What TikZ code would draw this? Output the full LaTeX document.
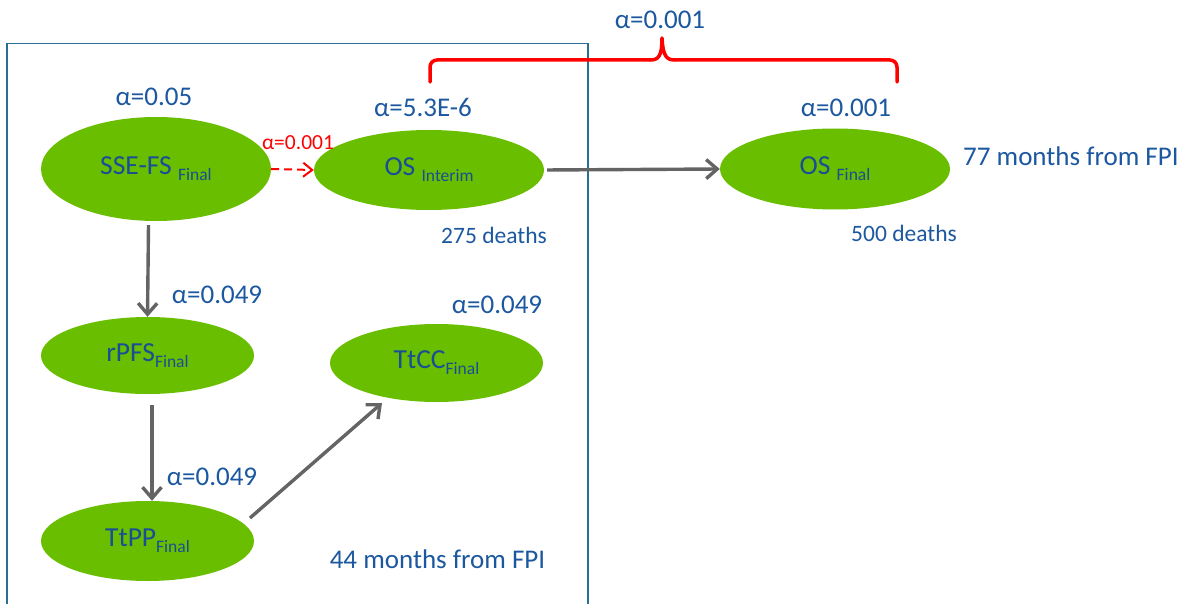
\documentclass[tikz,border=0pt]{standalone}
\usepackage{fontspec}
\setmainfont{Carlito}
\usetikzlibrary{shapes.geometric,arrows.meta}
\definecolor{ellgreen}{RGB}{106,190,0}
\definecolor{txtblue}{RGB}{28,88,160}
\definecolor{elltxt}{RGB}{24,78,150}
\definecolor{boxblue}{RGB}{40,110,150}
\definecolor{arrgray}{RGB}{100,100,100}
\definecolor{bred}{RGB}{255,0,0}
\newcommand{\subtxt}[1]{\raisebox{-0.45ex}{\fontsize{17.5}{18}\selectfont #1}}
\tikzset{
  ell/.style={ellipse, fill=ellgreen, draw=none, inner sep=0pt, text=elltxt, font=\fontsize{27.5}{30}\selectfont},
  lbl/.style={text=txtblue, inner sep=0pt, font=\fontsize{27}{30}\selectfont},
  deaths/.style={text=txtblue, inner sep=0pt, font=\fontsize{23.5}{26}\selectfont},
  grayarrow/.style={draw=arrgray, line width=3.4pt, -{Straight Barb[length=11pt,width=19pt,line width=3.4pt]}},
  redarrow/.style={draw=bred, line width=2pt, dash pattern=on 8pt off 5pt, -{Straight Barb[length=9pt,width=14pt,line width=2pt]}},
  boxline/.style={draw=boxblue, line width=1.6pt},
  bracestyle/.style={draw=bred, line width=3.5pt, line cap=round, line join=round}
}
\begin{document}
\begin{tikzpicture}[x=1pt,y=-1pt]
\useasboundingbox (0,0) rectangle (1192,604);
\fill[white] (0,0) rectangle (1192,604);
% frame
\draw[boxline] (7,605) -- (7,43.5) -- (588,43.5) -- (588,605);
% brace
\draw[bracestyle, rounded corners=7pt] (430,82) -- (430,60) -- (650,60);
\draw[bracestyle] (650,60) .. controls (658,60) and (662,57) .. (662,38) .. controls (663,57) and (667,60) .. (675,60);
\draw[bracestyle, rounded corners=7pt] (675,60) -- (897,60) -- (897,82);
\node[lbl] (atop) at (660,20) {α=0.001};
% nodes
\node[ell, minimum width=230pt, minimum height=104pt] (sse) at (156,169) {SSE-FS \subtxt{Final}};
\node[ell, minimum width=230pt, minimum height=80pt] (osi) at (429,170) {OS \subtxt{Interim}};
\node[ell, minimum width=230pt, minimum height=81pt] (osf) at (835,169) {OS \subtxt{Final}};
\node[ell, minimum width=213pt, minimum height=77pt] (rpfs) at (147.5,355.5) {rPFS\subtxt{Final}};
\node[ell, minimum width=213pt, minimum height=78pt] (ttcc) at (436.5,363) {TtCC\subtxt{Final}};
\node[ell, minimum width=213pt, minimum height=80pt] (ttpp) at (147.5,541) {TtPP\subtxt{Final}};
% labels
\node[lbl] (a1) at (154,97) {α=0.05};
\node[lbl] (a2) at (423,107) {α=5.3E-6};
\node[text=bred, inner sep=0pt, font=\fontsize{21.5}{24}\selectfont] (ared) at (298,143) {α=0.001};
\node[deaths] (d1) at (494,235) {275 deaths};
\node[lbl] (a3) at (846,108) {α=0.001};
\node[lbl, anchor=west] (m77) at (963,156) {77 months from FPI};
\node[deaths] (d2) at (904,233) {500 deaths};
\node[lbl] (a4) at (217,295) {α=0.049};
\node[lbl] (a5) at (497,305) {α=0.049};
\node[lbl] (a6) at (212,477) {α=0.049};
\node[lbl] (m44) at (437.5,559) {44 months from FPI};
% connectors
\draw[redarrow] (sse.east) -- (osi.west);
\draw[grayarrow, shorten <=3pt] (osi.east) -- (osf.west);
\draw[grayarrow] ([shift={(-7.5,4)}]sse.south) -- (rpfs.north);
\draw[grayarrow] ([shift={(4.5,11)}]rpfs.south) -- ([xshift=4.5]ttpp.north);
\draw[grayarrow] ([shift={(102.5,-23)}]ttpp.center) -- ([shift={(-54.5,40)}]ttcc.center);
\end{tikzpicture}
\end{document}
